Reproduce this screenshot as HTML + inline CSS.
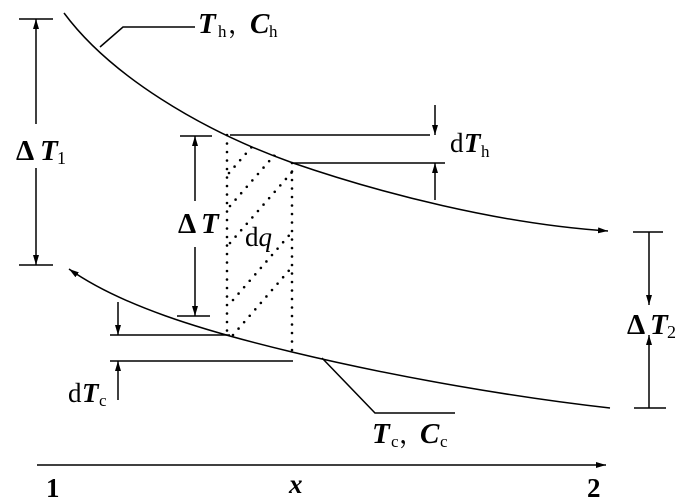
<!DOCTYPE html>
<html><head><meta charset="utf-8"><style>
html,body{margin:0;padding:0;background:#fff;}
svg{display:block;}
text{font-family:"Liberation Serif","Noto Serif CJK SC",serif;fill:#000;}
.it{font-style:italic;font-weight:bold;}
.b{font-weight:bold;}
</style></head><body>
<svg width="700" height="501" viewBox="0 0 700 501" xmlns="http://www.w3.org/2000/svg">
<defs>
<marker id="a" markerWidth="10" markerHeight="6" refX="10" refY="3" orient="auto" markerUnits="userSpaceOnUse"><path d="M0,0 L10,3 L0,6 Z" fill="#000"/></marker>
<clipPath id="strip"><path d="M227,133 L293,163 L293,353 L227,336 Z"/></clipPath>
</defs>
<g stroke="#000" stroke-width="1.5" fill="none">
<path d="M64,13 C110,75 200,130 293,163 C380,193 500,224 608,231" marker-end="url(#a)"/>
<path d="M610,408 C520,398 400,378 292,352 C200,330 120,305 69,269" marker-end="url(#a)"/>
<path d="M100,47 L123,27 L195,27"/>
<path d="M322,358 L375,413 L455,413"/>
<line x1="19" y1="19" x2="53" y2="19"/><line x1="19" y1="265" x2="53" y2="265"/>
<line x1="36" y1="124" x2="36" y2="19" marker-end="url(#a)"/>
<line x1="36" y1="168" x2="36" y2="265" marker-end="url(#a)"/>
<line x1="180" y1="136" x2="212" y2="136"/><line x1="177" y1="316" x2="210" y2="316"/>
<line x1="195" y1="201" x2="195" y2="136" marker-end="url(#a)"/>
<line x1="195" y1="247" x2="195" y2="316" marker-end="url(#a)"/>
<line x1="230" y1="135" x2="430" y2="135"/><line x1="293" y1="163" x2="445" y2="163"/>
<line x1="435" y1="105" x2="435" y2="135" marker-end="url(#a)"/>
<line x1="435" y1="200" x2="435" y2="163" marker-end="url(#a)"/>
<line x1="110" y1="335" x2="230" y2="335"/><line x1="110" y1="361" x2="293" y2="361"/>
<line x1="118" y1="302" x2="118" y2="335" marker-end="url(#a)"/>
<line x1="118" y1="400" x2="118" y2="361" marker-end="url(#a)"/>
<line x1="633" y1="232" x2="663" y2="232"/><line x1="634" y1="408" x2="666" y2="408"/>
<line x1="649" y1="232" x2="649" y2="305" marker-end="url(#a)"/>
<line x1="649" y1="408" x2="649" y2="335" marker-end="url(#a)"/>
<line x1="37" y1="465" x2="606" y2="465" marker-end="url(#a)"/>
</g>
<g stroke="#000" stroke-width="2.6" stroke-linecap="round" stroke-dasharray="0 8.5" fill="none">
<line x1="227" y1="135" x2="227" y2="336"/>
<line x1="292" y1="163" x2="292" y2="352"/>
<g clip-path="url(#strip)">
<line x1="229" y1="173" x2="290" y2="103"/>
<line x1="230" y1="206" x2="292" y2="135"/>
<line x1="230" y1="243" x2="292" y2="172"/>
<line x1="233" y1="300" x2="292" y2="232"/>
<line x1="233" y1="335" x2="292" y2="267"/>
</g>
</g>
<!-- Th, Ch -->
<text x="198" y="33" font-size="29" class="it">T</text>
<text x="218" y="37" font-size="17">h</text>
<text x="228" y="33" font-size="26">，</text>
<text x="250" y="33" font-size="29" class="it">C</text>
<text x="269" y="37" font-size="17">h</text>
<!-- ΔT1 -->
<text x="16" y="160" font-size="29" class="b">Δ</text>
<text x="40" y="160" font-size="29" class="it">T</text>
<text x="57" y="164" font-size="18">1</text>
<!-- ΔT -->
<text x="178" y="233" font-size="29" class="b">Δ</text>
<text x="201" y="233" font-size="29" class="it">T</text>
<!-- dq -->
<text x="245" y="246" font-size="27">d<tspan font-style="italic">q</tspan></text>
<!-- dTh -->
<text x="450" y="152" font-size="27">d</text>
<text x="464" y="152" font-size="27" class="it">T</text>
<text x="481" y="157" font-size="17">h</text>
<!-- dTc -->
<text x="68" y="402" font-size="27">d</text>
<text x="82" y="402" font-size="27" class="it">T</text>
<text x="99" y="406" font-size="17">c</text>
<!-- ΔT2 -->
<text x="627" y="334" font-size="29" class="b">Δ</text>
<text x="650" y="334" font-size="29" class="it">T</text>
<text x="667" y="338" font-size="18">2</text>
<!-- Tc, Cc -->
<text x="372" y="443" font-size="29" class="it">T</text>
<text x="391" y="447" font-size="17">c</text>
<text x="399" y="443" font-size="26">，</text>
<text x="420" y="443" font-size="29" class="it">C</text>
<text x="440" y="447" font-size="17">c</text>
<!-- axis labels -->
<text x="46" y="497" font-size="27" class="b">1</text>
<text x="289" y="493" font-size="27" class="it">x</text>
<text x="587" y="497" font-size="27" class="b">2</text>
</svg>
</body></html>
